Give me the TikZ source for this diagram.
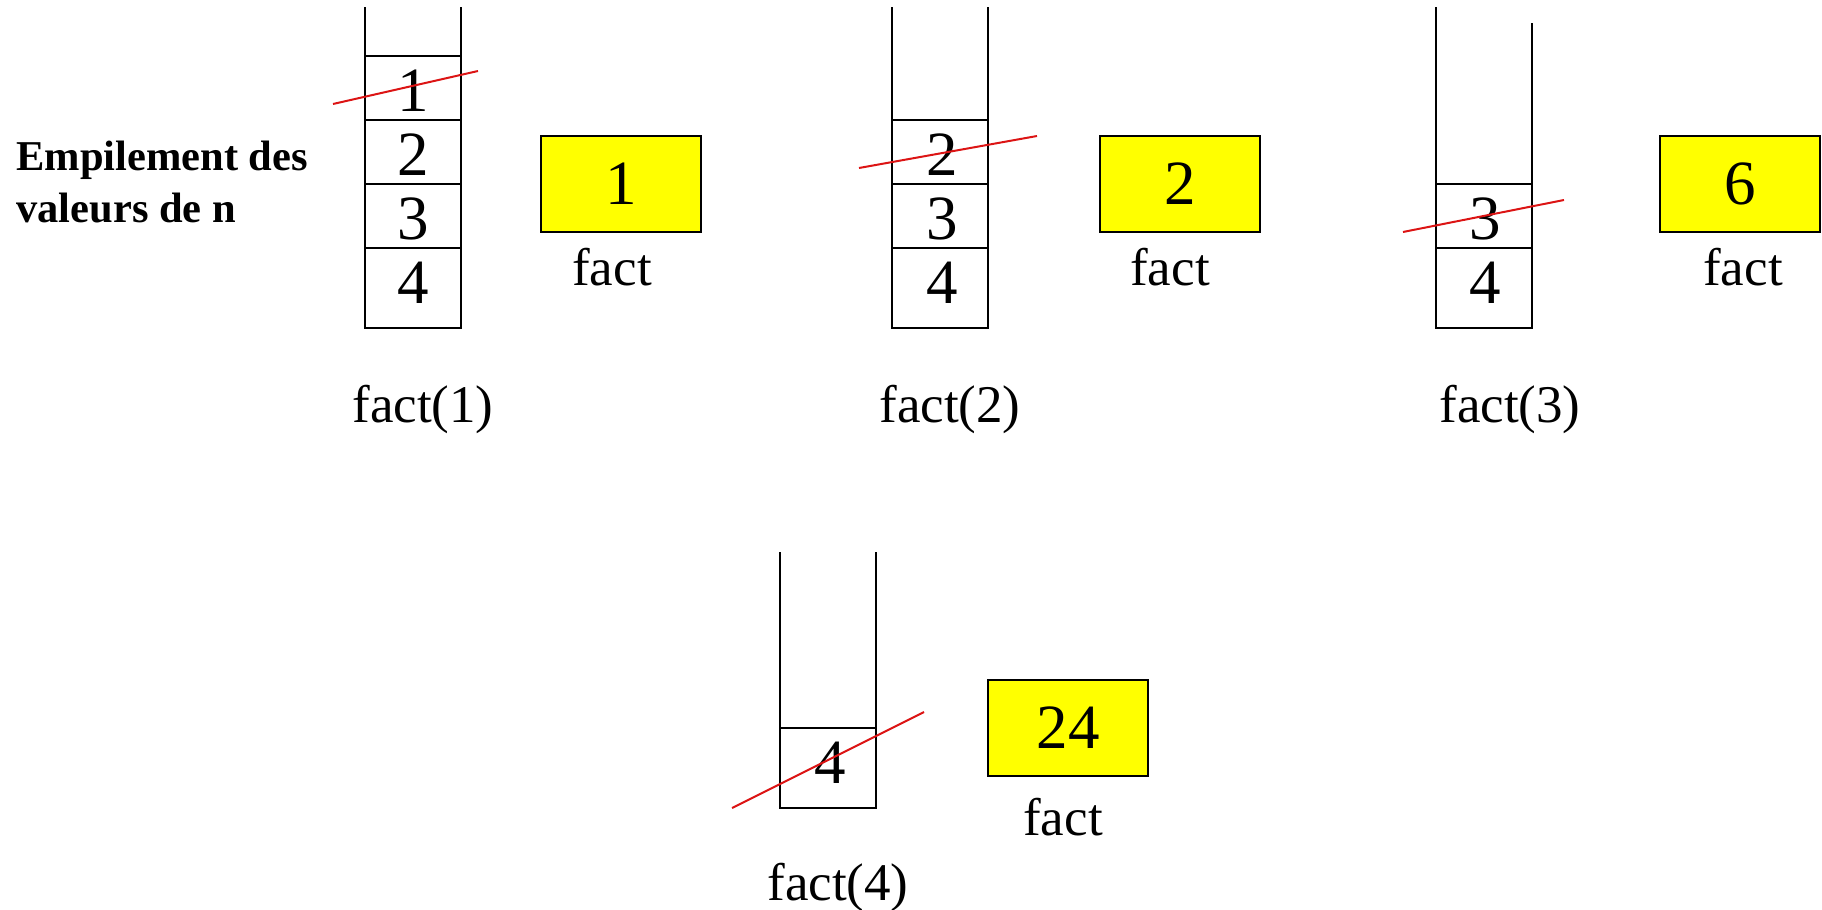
\documentclass[tikz,border=0pt]{standalone}
\usepackage{fontspec}
\setmainfont{Liberation Serif}
\definecolor{strikered}{RGB}{220,20,20}
\definecolor{valyellow}{RGB}{255,255,0}
\begin{document}
\begin{tikzpicture}[x=0.5pt,y=-0.5pt,
  wall/.style={draw=black,line width=1.1pt},
  strike/.style={draw=strikered,line width=1pt},
  digit/.style={anchor=base,inner sep=0pt,font=\fontsize{31.5}{36}\selectfont},
  lbl/.style={anchor=base,inner sep=0pt,font=\fontsize{26.5}{30}\selectfont},
  valbox/.style={draw=black,line width=1.1pt,fill=valyellow,minimum width=80pt,minimum height=48pt,inner sep=0pt,font=\fontsize{31.5}{36}\selectfont},
  title/.style={anchor=base west,inner sep=0pt,font=\bfseries\fontsize{21.25}{26}\selectfont}]
\useasboundingbox (0,0) rectangle (1822,910);

% title
\node[title] (t1) at (16,170) {Empilement des};
\node[title] (t2) at (16,222) {valeurs de n};

% ---------- stack 1 : fact(1)
\draw[wall] (365,7) -- (365,328) -- (461,328) -- (461,7);
\foreach \y in {56,120,184,248} \draw[wall] (365,\y) -- (461,\y);
\node[digit] (s1a) at (413,111) {1};
\node[digit] (s1b) at (413,175) {2};
\node[digit] (s1c) at (413,239) {3};
\node[digit] (s1d) at (413,303) {4};
\coordinate (r1a) at (333,104);
\coordinate (r1b) at (478,71);
\draw[strike] (r1a) -- (r1b);
\node[valbox] (v1) at (621,184) {1};
\node[lbl] (f1) at (612,285) {fact};
\node[lbl] (c1) at (423,422) {fact(1)};

% ---------- stack 2 : fact(2)
\draw[wall] (892,7) -- (892,328) -- (988,328) -- (988,7);
\foreach \y in {120,184,248} \draw[wall] (892,\y) -- (988,\y);
\node[digit] (s2b) at (942,175) {2};
\node[digit] (s2c) at (942,239) {3};
\node[digit] (s2d) at (942,303) {4};
\coordinate (r2a) at (859,168);
\coordinate (r2b) at (1037,136);
\draw[strike] (r2a) -- (r2b);
\node[valbox] (v2) at (1180,184) {2};
\node[lbl] (f2) at (1170,285) {fact};
\node[lbl] (c2) at (950,422) {fact(2)};

% ---------- stack 3 : fact(3)
\draw[wall] (1436,7) -- (1436,328) -- (1532,328) -- (1532,23);
\foreach \y in {184,248} \draw[wall] (1436,\y) -- (1532,\y);
\node[digit] (s3c) at (1485,239) {3};
\node[digit] (s3d) at (1485,303) {4};
\coordinate (r3a) at (1403,232);
\coordinate (r3b) at (1564,200);
\draw[strike] (r3a) -- (r3b);
\node[valbox] (v3) at (1740,184) {6};
\node[lbl] (f3) at (1743,285) {fact};
\node[lbl] (c3) at (1510,422) {fact(3)};

% ---------- stack 4 : fact(4)
\draw[wall] (780,552) -- (780,808) -- (876,808) -- (876,552);
\draw[wall] (780,728) -- (876,728);
\node[digit] (s4d) at (830,783) {4};
\coordinate (r4a) at (732,808);
\coordinate (r4b) at (924,712);
\draw[strike] (r4a) -- (r4b);
\node[valbox] (v4) at (1068,728) {24};
\node[lbl] (f4) at (1063,835) {fact};
\node[lbl] (c4) at (838,900) {fact(4)};
\end{tikzpicture}
\end{document}
